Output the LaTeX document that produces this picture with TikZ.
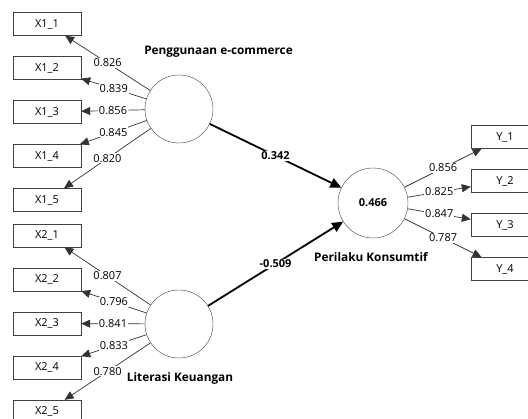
\documentclass[tikz,border=0pt]{standalone}
\usepackage{fontspec}
\setmainfont{Open Sans}
\usetikzlibrary{arrows.meta}

\begin{document}
\begin{tikzpicture}[x=1pt, y=-1pt, font=\fontsize{11}{13}\selectfont,
    indicator/.style={draw=black!75, minimum width=68pt, minimum height=23pt, inner sep=0pt},
    latent/.style={circle, draw=black!75, minimum size=68pt, inner sep=0pt},
    title/.style={font=\fontsize{11.8}{14}\selectfont\bfseries},
    loading/.style={fill=white, inner sep=1pt},
    loadline/.style={draw=black!80, line width=0.7pt, -{Triangle[length=9pt,width=8pt]}},
    pathline/.style={draw=black, line width=1.8pt, -{Triangle[length=11pt,width=10pt]}}]
    \useasboundingbox (0,0) rectangle (528,419);

    \def\lone{{"0.826","0.839","0.856","0.845","0.820"}}
    \def\ltwo{{"0.807","0.796","0.841","0.833","0.780"}}
    \def\lthree{{"0.856","0.825","0.847","0.787"}}

    % latent variables
    \node[latent] (PE) at (179,109) {};
    \node[latent] (LK) at (179,324) {};
    \node[latent, minimum size=70pt] (PK) at (373,203) {\textbf{0.466}};

    \node[title] (PE-label) at (218.5,52) {Penggunaan e-commerce};
    \node[title] (LK-label) at (180,378) {Literasi Keuangan};
    \node[title] (PK-label) at (371,257) {Perilaku Konsumtif};

    % indicators
    \foreach \i in {1,...,5} {
        \node[indicator] (x1-\i) at (47, {24+44*(\i-1)}) {X1\_\i};
        \draw[loadline] (PE) -- node[loading] {\pgfmathparse{\lone[\i-1]}\pgfmathresult} (x1-\i);
        \node[indicator] (x2-\i) at (47, {235.5+44*(\i-1)}) {X2\_\i};
        \draw[loadline] (LK) -- node[loading] {\pgfmathparse{\ltwo[\i-1]}\pgfmathresult} (x2-\i);
    }
    \foreach \i in {1,...,4} {
        \node[indicator] (y-\i) at (505, {137+44*(\i-1)}) {Y\_\i};
        \draw[loadline] (PK) -- node[loading] {\pgfmathparse{\lthree[\i-1]}\pgfmathresult} (y-\i);
    }

    % structural paths
    \draw[pathline] (PE) -- node[loading] {\textbf{0.342}} (PK);
    \draw[pathline] (LK) -- node[loading] {\textbf{-0.509}} (PK);
\end{tikzpicture}
\end{document}
